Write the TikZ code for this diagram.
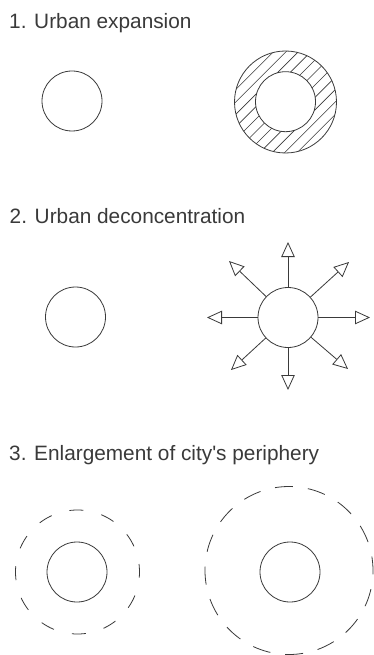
\documentclass[tikz,border=0pt]{standalone}
\usepackage{fontspec}
\setmainfont{Liberation Sans}[Ligatures=TeXOff]
\usetikzlibrary{arrows.meta,calc}
\definecolor{ink}{HTML}{3A3A3A}
\tikzset{
  ttl/.style={anchor=base west, inner sep=0pt, text=ink, font=\fontsize{20.8}{24}\selectfont},
  city/.style={circle, draw=ink, line width=0.8pt, minimum size=60pt, inner sep=0pt},
  ringo/.style={circle, draw=ink, line width=0.8pt, minimum size=102pt, inner sep=0pt},
  hatch/.style={draw=ink, line width=0.6pt},
  outarrow/.style={draw=ink, line width=0.8pt, -{Triangle[open, length=15pt, width=13.5pt, line width=0.8pt]}},
  peri/.style={circle, draw=ink, line width=0.8pt, inner sep=0pt},
}
\begin{document}
\begin{tikzpicture}[x=1pt, y=-1pt]
\useasboundingbox[fill=white] (0,0) rectangle (374,655);
% Section 1
\node[ttl] (t1) at (9,29) {1. Urban expansion};
\node[city] (a1) at (72,101) {};
\begin{scope}
  \clip (285.5,102) circle (51);
  \foreach \k in {-12,...,12} {
    \draw[hatch] ($(285.5,102)+(\k*8.8*0.7071,\k*8.8*0.7071)+(-60,60)$) -- ++(120,-120);
  }
\end{scope}
\node[ringo] (a2o) at (285.5,102) {};
\node[city, fill=white] (a2) at (285.5,101.7) {};
% Section 2
\node[ttl] (t2) at (9.5,223) {2. Urban deconcentration};
\node[city] (b1) at (75.5,317) {};
\node[city] (b2) at (288,317.5) {};
\coordinate (pN) at (288,242);
\coordinate (pS) at (288,390);
\coordinate (pW) at (207,317.5);
\coordinate (pE) at (370,317.5);
\coordinate (pNE) at (349,262);
\coordinate (pNW) at (229,261);
\coordinate (pSW) at (231,370);
\coordinate (pSE) at (348,369);
\foreach \p in {pN,pS,pW,pE,pNE,pNW,pSW,pSE} {
  \draw[outarrow] (b2) -- (\p);
}
% Section 3
\node[ttl] (t3) at (9,460) {3. Enlargement of city's periphery};
\node[city] (c1) at (77,572) {};
\node[peri, minimum size=124pt, dash pattern=on 14pt off 18.5pt, dash phase=6pt] (c1o) at (77.5,572) {};
\node[city] (c2) at (290,572) {};
\node[peri, minimum size=168pt, dash pattern=on 18pt off 15pt, dash phase=4pt] (c2o) at (289,570.5) {};
\end{tikzpicture}
\end{document}
